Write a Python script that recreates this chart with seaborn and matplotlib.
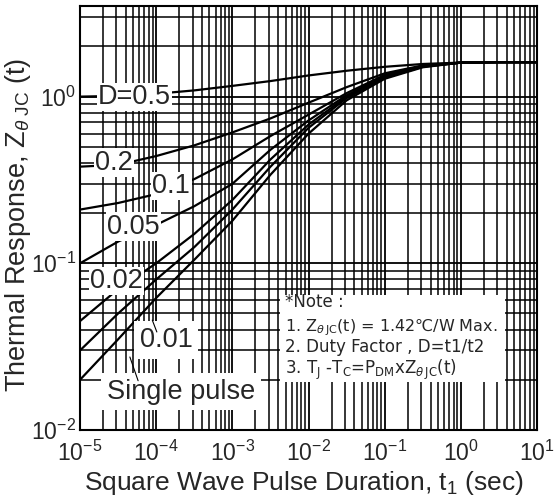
import numpy as np
import pandas as pd
import seaborn as sns
import matplotlib.pyplot as plt
from matplotlib.ticker import LogLocator, NullFormatter
from matplotlib.patches import Rectangle

# Pulse duration grid (sec) and thermal response
log_t = [-5, -4.5, -4, -3.5, -3, -2.5, -2, -1.5, -1, -0.5, 0, 0.5, 1]
z_d05 = [1.00, 1.01, 1.04, 1.09, 1.16, 1.24, 1.34, 1.43, 1.51, 1.57, 1.60, 1.61, 1.61]
z_d02 = [0.38, 0.39, 0.44, 0.51, 0.61, 0.74, 0.92, 1.14, 1.38, 1.54, 1.60, 1.61, 1.61]
z_d01 = [0.21, 0.23, 0.26, 0.32, 0.42, 0.58, 0.78, 1.05, 1.35, 1.53, 1.60, 1.61, 1.61]
z_d005 = [0.10, 0.135, 0.17, 0.22, 0.30, 0.48, 0.72, 1.02, 1.33, 1.52, 1.60, 1.61, 1.61]
z_d002 = [0.045, 0.07, 0.10, 0.15, 0.24, 0.42, 0.68, 1.00, 1.31, 1.52, 1.60, 1.61, 1.61]
z_d001 = [0.03, 0.05, 0.08, 0.125, 0.21, 0.38, 0.65, 0.98, 1.30, 1.51, 1.60, 1.61, 1.61]
z_single = [0.02, 0.035, 0.062, 0.105, 0.18, 0.34, 0.60, 0.95, 1.28, 1.50, 1.60, 1.61, 1.61]

curves = {'0.5': z_d05, '0.2': z_d02, '0.1': z_d01, '0.05': z_d005,
          '0.02': z_d002, '0.01': z_d001, 'single': z_single}

t = 10.0 ** np.array(log_t)
df = pd.concat([pd.DataFrame({'t': t, 'Z': z, 'curve': name}) for name, z in curves.items()])

sns.set_style('white')
plt.rcParams['font.family'] = ['Liberation Sans', 'DejaVu Sans']
plt.rcParams['mathtext.fontset'] = 'custom'
plt.rcParams['mathtext.rm'] = 'Liberation Sans'
plt.rcParams['mathtext.it'] = 'Liberation Sans:italic'

fig = plt.figure(figsize=(5.56, 4.97), dpi=100)
ax = fig.add_axes([0.144, 0.135, 0.822, 0.853])

sns.lineplot(data=df, x='t', y='Z', units='curve', estimator=None,
             color='black', lw=1.6, ax=ax, zorder=3)

ax.set_xscale('log')
ax.set_yscale('log')
ax.set_xlim(1e-5, 10)
ax.set_ylim(0.01, 3.5)

for axis in (ax.xaxis, ax.yaxis):
    axis.set_major_locator(LogLocator(base=10, numticks=20))
    axis.set_minor_locator(LogLocator(base=10, subs=np.arange(2, 10), numticks=100))
    axis.set_minor_formatter(NullFormatter())

ax.grid(which='major', color='black', lw=1.3, zorder=1)
ax.grid(which='minor', color='black', lw=1.1, zorder=1)
ax.set_axisbelow(True)
ax.tick_params(which='both', length=0, labelsize=16.5)
ax.tick_params(axis='x', pad=8)
ax.tick_params(axis='y', pad=3)
for s in ax.spines.values():
    s.set_color('black')
    s.set_linewidth(1.5)

ax.set_xlabel(r'Square Wave Pulse Duration, t$_1$ (sec)', fontsize=19)
ax.set_ylabel(r'Thermal Response, Z$_{\theta\ \mathrm{JC}}$ (t)', fontsize=19.5)
ax.xaxis.set_label_coords(0.49, -0.093)
ax.yaxis.set_label_coords(-0.104, 0.483)

labels = [('D=0.5', 0.039, 0.785), ('0.2', 0.033, 0.630), ('0.1', 0.158, 0.575),
          ('0.05', 0.059, 0.479), ('0.02', 0.022, 0.351), ('0.01', 0.131, 0.212),
          ('Single pulse', 0.059, 0.090)]
for txt, x, y in labels:
    pad = 4 if txt in ('0.01', 'Single pulse') else 1
    ax.text(x, y, txt, transform=ax.transAxes, fontsize=19.5, va='center', ha='left',
            bbox=dict(facecolor='white', edgecolor='none', pad=pad), zorder=5)

# leader lines
ax.plot([0.109, 0.127], [0.172, 0.116], transform=ax.transAxes, color='black', lw=0.8, zorder=6)
ax.plot([0.158, 0.168], [0.259, 0.231], transform=ax.transAxes, color='black', lw=0.8, zorder=6)

# note box
ax.add_patch(Rectangle((0.4376, 0.113), 0.4924, 0.205, transform=ax.transAxes,
                       facecolor='white', edgecolor='none', zorder=4))
note_kw = dict(transform=ax.transAxes, va='baseline', ha='left', zorder=6,
               family='DejaVu Sans', math_fontfamily='dejavusans')
notes = [('*Note :', 0.290, 12),
         (r'1. Z$_{\theta\,\mathrm{JC}}$(t) = 1.42' + '\u2103/W Max.', 0.232, 11.5),
         ('2. Duty Factor , D=t1/t2', 0.184, 12),
         (r'3. T$_\mathrm{J}$ -T$_\mathrm{C}$=P$_\mathrm{DM}$xZ$_{\theta\,\mathrm{JC}}$(t)', 0.131, 12)]
for txt, y, fs in notes:
    ax.text(0.449, y, txt, fontsize=fs, **note_kw)

fig.savefig('out.png', dpi=100)
